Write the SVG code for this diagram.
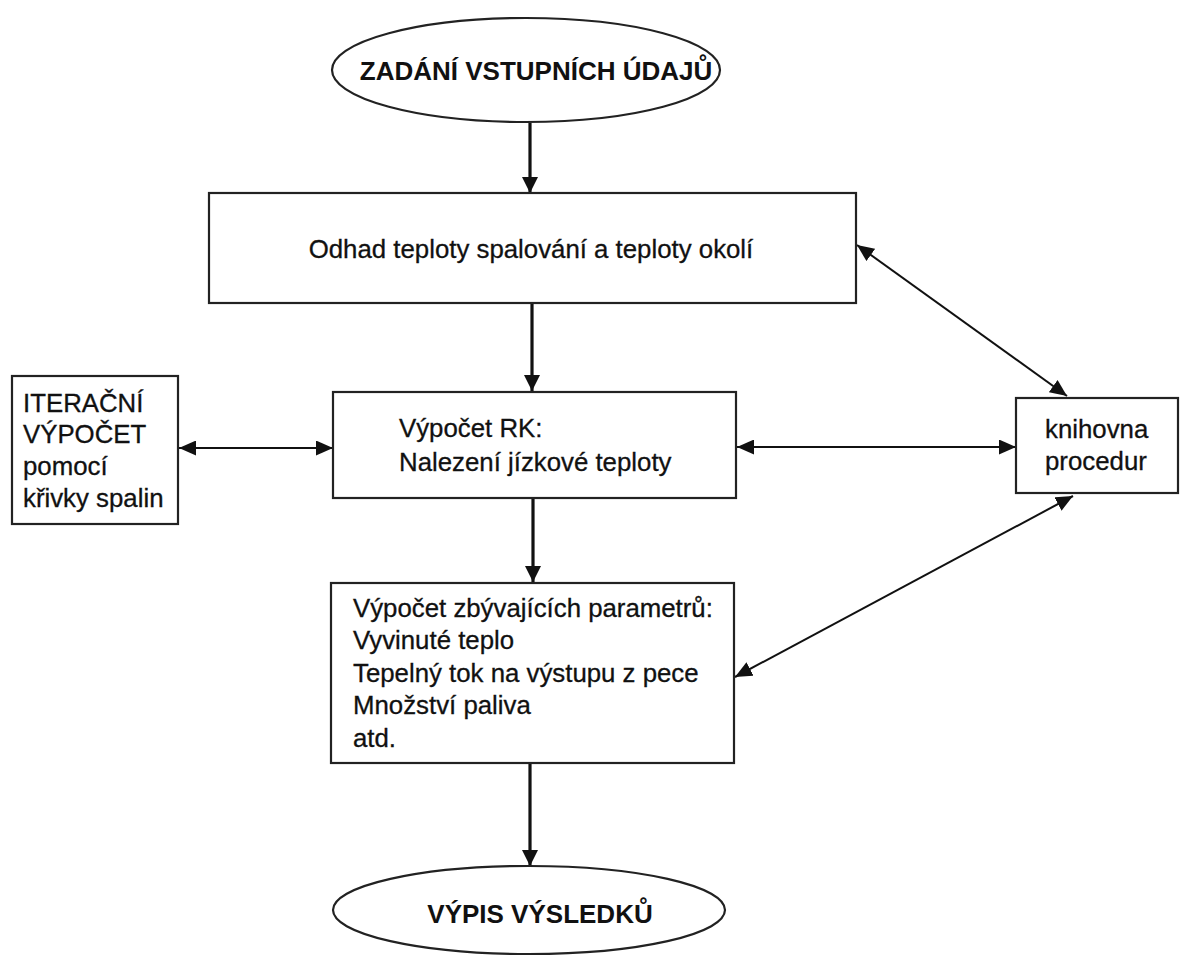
<svg xmlns="http://www.w3.org/2000/svg" width="1181" height="958" viewBox="0 0 1181 958">
<defs>
<style>
.shape{fill:#fff;stroke:#222;stroke-width:2.2}
.t{font-family:"Liberation Sans",Arial,sans-serif;font-size:25.8px;fill:#111;stroke:#111;stroke-width:0.3}
.b{font-family:"Liberation Sans",Arial,sans-serif;font-size:26px;font-weight:bold;fill:#111}
.main{stroke:#111;stroke-width:3.2;fill:none}
.thin{stroke:#111;stroke-width:2;fill:none}
</style>
<marker id="ah" markerUnits="userSpaceOnUse" markerWidth="16" markerHeight="16" refX="16" refY="8" orient="auto-start-reverse">
<path d="M0,0 L16,8 L0,16 z" fill="#111"/>
</marker>
<marker id="as" markerUnits="userSpaceOnUse" markerWidth="17" markerHeight="15" refX="17" refY="7.5" orient="auto-start-reverse">
<path d="M0,0 L17,7.5 L0,15 z" fill="#111"/>
</marker>
</defs>
<rect width="1181" height="958" fill="#fff"/>
<g id="connectors">
<line class="main" x1="530" y1="123" x2="530" y2="193" marker-end="url(#ah)"/>
<line class="main" x1="532" y1="304" x2="532" y2="391" marker-end="url(#ah)"/>
<line class="main" x1="533" y1="499" x2="533" y2="582" marker-end="url(#ah)"/>
<line class="main" x1="530" y1="764" x2="530" y2="866" marker-end="url(#ah)"/>
<line class="thin" x1="857" y1="245" x2="1067" y2="396" marker-start="url(#as)" marker-end="url(#as)"/>
<line class="thin" x1="179" y1="448" x2="333" y2="448" marker-start="url(#as)" marker-end="url(#as)"/>
<line class="thin" x1="737" y1="447" x2="1016" y2="447" marker-start="url(#as)" marker-end="url(#as)"/>
<line class="thin" x1="735" y1="677" x2="1073" y2="496" marker-start="url(#as)" marker-end="url(#as)"/>
</g>
<g id="start">
<ellipse class="shape" cx="526" cy="70" rx="194" ry="52"/>
<text class="b" x="536" y="80" text-anchor="middle">ZADÁNÍ VSTUPNÍCH ÚDAJŮ</text>
</g>
<g id="odhad">
<rect class="shape" x="209" y="193" width="647" height="110"/>
<text class="t" x="531" y="258" text-anchor="middle">Odhad teploty spalování a teploty okolí</text>
</g>
<g id="vypocet-rk">
<rect class="shape" x="333" y="392" width="403" height="106"/>
<text class="t" x="399" y="437">Výpočet RK:</text>
<text class="t" x="399" y="471">Nalezení jízkové teploty</text>
</g>
<g id="iteracni">
<rect class="shape" x="12" y="376" width="166" height="148"/>
<text class="t" x="23" y="412">ITERAČNÍ</text>
<text class="t" x="23" y="443">VÝPOČET</text>
<text class="t" x="23" y="475">pomocí</text>
<text class="t" x="23" y="507">křivky spalin</text>
</g>
<g id="knihovna">
<rect class="shape" x="1016" y="398" width="162" height="95"/>
<text class="t" x="1045" y="438">knihovna</text>
<text class="t" x="1045" y="470">procedur</text>
</g>
<g id="zbyvajici">
<rect class="shape" x="331" y="583" width="403" height="180"/>
<text class="t" x="353" y="617">Výpočet zbývajících parametrů:</text>
<text class="t" x="353" y="649">Vyvinuté teplo</text>
<text class="t" x="353" y="682">Tepelný tok na výstupu z pece</text>
<text class="t" x="353" y="714">Množství paliva</text>
<text class="t" x="353" y="747">atd.</text>
</g>
<g id="end">
<ellipse class="shape" cx="529" cy="910" rx="196" ry="44"/>
<text class="b" x="540" y="923" text-anchor="middle">VÝPIS VÝSLEDKŮ</text>
</g>
</svg>
